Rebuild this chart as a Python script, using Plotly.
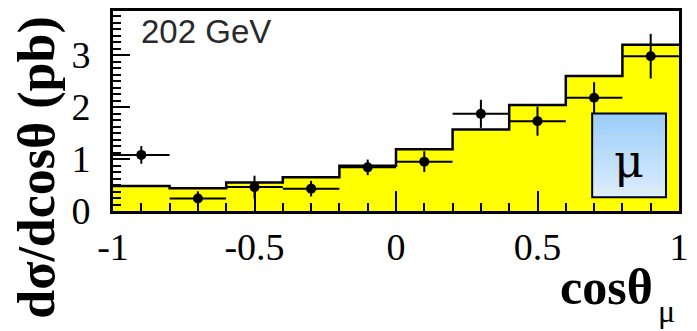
import plotly.graph_objects as go
import numpy as np

# ---- data ----
bin_edges = [-1.0, -0.8, -0.6, -0.4, -0.2, 0.0, 0.2, 0.4, 0.6, 0.8, 1.0]
mc_values = [0.48, 0.44, 0.55, 0.65, 0.87, 1.19, 1.57, 2.04, 2.60, 3.20]
data_x = [-0.9, -0.7, -0.5, -0.3, -0.1, 0.1, 0.3, 0.5, 0.7, 0.9]
data_y = [1.08, 0.24, 0.46, 0.43, 0.84, 0.95, 1.87, 1.73, 2.18, 2.98]
data_err = [0.17, 0.14, 0.22, 0.15, 0.15, 0.20, 0.27, 0.28, 0.30, 0.43]
x_tickvals = [-1, -0.5, 0, 0.5, 1]
x_ticktext = ["-1", "-0.5", "0", "0.5", "1"]
y_tickvals = [0, 1, 2, 3]
y_ticktext = ["0", "1", "2", "3"]

W, H = 697, 331
ML, MR, MT, MB = 113, 17, 8, 120
PW, PH = W - ML - MR, H - MT - MB

def px(xp):  # pixel x -> paper
    return (xp - ML) / PW

def py(yp):  # pixel y -> paper
    return (H - MB - yp) / PH

fig = go.Figure()

# MC histogram (step, filled)
fig.add_trace(go.Scatter(
    x=bin_edges, y=mc_values + [mc_values[-1]],
    mode="lines", line=dict(shape="hv", color="black", width=2.5),
    fill="tozeroy", fillcolor="#ffff00", showlegend=False, hoverinfo="skip"))

# data points
fig.add_trace(go.Scatter(
    x=data_x, y=data_y, mode="markers",
    marker=dict(color="black", size=10),
    error_y=dict(type="data", array=data_err, color="black", thickness=2, width=0),
    error_x=dict(type="constant", value=0.1, color="black", thickness=2, width=0),
    showlegend=False))

serif = "Liberation Serif"

fig.update_layout(
    width=W, height=H,
    margin=dict(l=ML, r=MR, t=MT, b=MB),
    paper_bgcolor="white", plot_bgcolor="white",
    xaxis=dict(range=[-1, 1], tickvals=x_tickvals, ticktext=x_ticktext,
               ticks="inside", ticklen=20, tickwidth=2, tickcolor="black",
               minor=dict(dtick=0.1, tick0=0, ticks="inside", ticklen=8, tickwidth=2, tickcolor="black"),
               showline=True, linewidth=3, linecolor="black", mirror=True,
               showgrid=False, zeroline=False,
               tickfont=dict(family=serif, size=38, color="black")),
    yaxis=dict(range=[0, 3.85], tickvals=y_tickvals, ticktext=y_ticktext,
               ticks="inside", ticklen=17, tickwidth=2, tickcolor="black",
               minor=dict(dtick=0.125, tick0=0, ticks="inside", ticklen=8, tickwidth=2, tickcolor="black"),
               showline=True, linewidth=3, linecolor="black", mirror=True,
               showgrid=False, zeroline=False, ticklabelstandoff=12,
               tickfont=dict(family=serif, size=38, color="black")),
)

# legend box with vertical gradient
x0, x1 = px(593), px(667)
y0, y1 = py(197), py(112)
N = 30
top = np.array([0x99, 0xcc, 0xff])
bot = np.array([0xdd, 0xee, 0xff])
for i in range(N):
    t = (i + 0.5) / N
    c = top * (1 - t) + bot * t
    ya = y1 - (y1 - y0) * i / N
    yb = y1 - (y1 - y0) * (i + 1) / N
    fig.add_shape(type="rect", xref="paper", yref="paper",
                  x0=x0, x1=x1, y0=yb, y1=ya + 0.002, line=dict(width=0),
                  fillcolor="rgb(%d,%d,%d)" % tuple(c.astype(int)), layer="above")
fig.add_shape(type="rect", xref="paper", yref="paper", x0=x0, x1=x1, y0=y0, y1=y1,
              line=dict(color="black", width=2), fillcolor="rgba(0,0,0,0)", layer="above")

fig.add_annotation(text="μ", xref="paper", yref="paper", x=(x0 + x1) / 2, y=py(160),
                   xanchor="center", yanchor="middle", showarrow=False,
                   font=dict(family="DejaVu Serif", size=46, color="black"))

fig.add_annotation(text="202 GeV", xref="paper", yref="paper", x=px(139), y=py(29),
                   xanchor="left", yanchor="middle", showarrow=False,
                   font=dict(family="Liberation Sans", size=33, color="#2a2a2a"))

# axis titles
fig.add_annotation(text="<b>dσ/dcosθ (pb)</b>", xref="paper", yref="paper",
                   x=px(37), y=py(167), xanchor="center", yanchor="middle",
                   textangle=-90, showarrow=False,
                   font=dict(family=serif, size=52, color="black"))
fig.add_annotation(text="<b>cosθ</b>", xref="paper", yref="paper",
                   x=px(656), y=py(288), xanchor="right", yanchor="middle",
                   showarrow=False, font=dict(family=serif, size=50, color="black"))
fig.add_annotation(text="μ", xref="paper", yref="paper",
                   x=px(657), y=py(313), xanchor="left", yanchor="middle",
                   showarrow=False, font=dict(family=serif, size=32, color="black"))

fig.write_html("out.html")
